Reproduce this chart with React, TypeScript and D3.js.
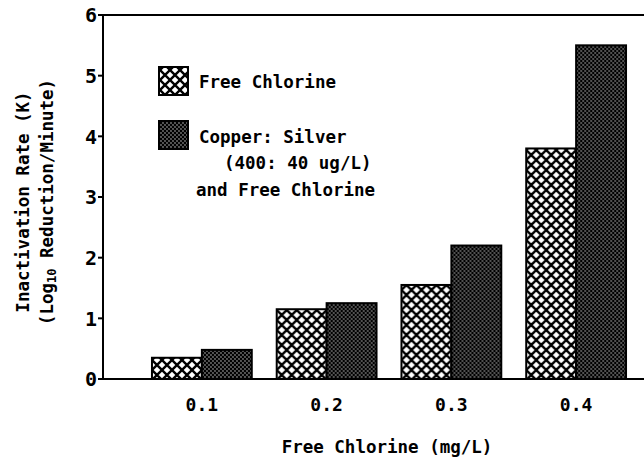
import React, { useEffect, useRef } from 'react';
import * as d3 from 'd3';

const doses = ['0.1', '0.2', '0.3', '0.4'];
const freeChlorine = [0.35, 1.15, 1.55, 3.8];
const copperSilver = [0.48, 1.25, 2.2, 5.5];
const yTicks = [0, 1, 2, 3, 4, 5, 6];
const seriesNames = ['Free Chlorine', 'Copper: Silver'];

const FONT = '"DejaVu Sans Mono", monospace';

export default function App() {
  const ref = useRef<SVGSVGElement | null>(null);

  useEffect(() => {
    const svg = d3.select(ref.current);
    svg.selectAll('*').remove();

    const width = 644;
    const height = 457;
    const left = 103;
    const right = 644;
    const top = 15;
    const bottom = 379;

    const defs = svg.append('defs');

    // cross hatch: white diamonds in black lines
    const hatch = defs.append('pattern')
      .attr('id', 'hatch')
      .attr('patternUnits', 'userSpaceOnUse')
      .attr('width', 10)
      .attr('height', 10);
    hatch.append('rect').attr('width', 10).attr('height', 10).attr('fill', '#fff');
    hatch.append('path')
      .attr('d', 'M-1,-1L11,11M11,-1L-1,11M-6,4L6,16M4,16L16,4M-6,6L6,-6M4,-6L16,6')
      .attr('stroke', '#000')
      .attr('stroke-width', 2.4);

    // stipple: black with small white dots
    const dots = defs.append('pattern')
      .attr('id', 'dots')
      .attr('patternUnits', 'userSpaceOnUse')
      .attr('width', 4)
      .attr('height', 4);
    dots.append('rect').attr('width', 4).attr('height', 4).attr('fill', '#000');
    dots.append('circle').attr('cx', 1).attr('cy', 1).attr('r', 0.65).attr('fill', '#e8e8e8');
    dots.append('circle').attr('cx', 3).attr('cy', 3).attr('r', 0.65).attr('fill', '#e8e8e8');

    const x = d3.scaleBand<string>()
      .domain(doses)
      .range([139.5, 638.5])
      .paddingInner(0.2)
      .paddingOuter(0.1);

    const x1 = d3.scaleBand<number>()
      .domain([0, 1])
      .range([0, x.bandwidth()]);

    const y = d3.scaleLinear().domain([0, 6]).range([bottom, top]);

    const fills = ['url(#hatch)', 'url(#dots)'];
    const series = [freeChlorine, copperSilver];

    const groups = svg.append('g')
      .selectAll('g')
      .data(doses)
      .join('g')
      .attr('transform', d => `translate(${x(d)},0)`);

    groups.selectAll('rect')
      .data((d, i) => series.map((s, k) => ({ k, v: s[i] })))
      .join('rect')
      .attr('x', d => x1(d.k)!)
      .attr('width', x1.bandwidth())
      .attr('y', d => y(d.v))
      .attr('height', d => y(0) - y(d.v))
      .attr('fill', d => fills[d.k])
      .attr('stroke', '#000')
      .attr('stroke-width', 2);

    // frame lines
    const axisG = svg.append('g').attr('stroke', '#000').attr('stroke-width', 2);
    axisG.append('line').attr('x1', left).attr('x2', left).attr('y1', top).attr('y2', bottom);
    axisG.append('line').attr('x1', left).attr('x2', right).attr('y1', top).attr('y2', top);
    axisG.append('line').attr('x1', left).attr('x2', right).attr('y1', bottom).attr('y2', bottom);

    axisG.selectAll('.tick')
      .data(yTicks)
      .join('line')
      .attr('x1', left - 5)
      .attr('x2', left)
      .attr('y1', d => y(d))
      .attr('y2', d => y(d));

    svg.append('g')
      .selectAll('text')
      .data(yTicks)
      .join('text')
      .attr('x', left - 6)
      .attr('y', d => y(d))
      .attr('dy', '0.36em')
      .attr('text-anchor', 'end')
      .attr('font-family', FONT)
      .attr('font-weight', 'bold')
      .attr('font-size', 20)
      .text(d => d);

    svg.append('g')
      .selectAll('text')
      .data(doses)
      .join('text')
      .attr('x', d => x(d)! + x.bandwidth() / 2)
      .attr('y', 405)
      .attr('dy', '0.36em')
      .attr('text-anchor', 'middle')
      .attr('font-family', FONT)
      .attr('font-weight', 'bold')
      .attr('font-size', 18)
      .text(d => d);

    svg.append('text')
      .attr('x', 387)
      .attr('y', 447)
      .attr('dy', '0.36em')
      .attr('text-anchor', 'middle')
      .attr('font-family', FONT)
      .attr('font-weight', 'bold')
      .attr('font-size', 17.5)
      .text('Free Chlorine (mg/L)');

    const yt = svg.append('text')
      .attr('transform', 'translate(0,202) rotate(-90)')
      .attr('text-anchor', 'middle')
      .attr('font-family', FONT)
      .attr('font-weight', 'bold')
      .attr('font-size', 17.5);
    yt.append('tspan').attr('x', 0).attr('y', 29).text('Inactivation Rate (K)');
    const l2 = yt.append('tspan').attr('x', 0).attr('y', 53);
    l2.append('tspan').text('(Log');
    l2.append('tspan').attr('font-size', 12).attr('dy', 3).text('10');
    l2.append('tspan').attr('dy', -3).text(' Reduction/Minute)');

    // legend
    const leg = svg.append('g').attr('font-family', FONT).attr('font-weight', 'bold').attr('font-size', 17.5);
    leg.append('rect').attr('x', 159).attr('y', 67).attr('width', 29).attr('height', 28)
      .attr('fill', fills[0]).attr('stroke', '#000').attr('stroke-width', 2);
    leg.append('rect').attr('x', 159).attr('y', 121).attr('width', 29).attr('height', 28)
      .attr('fill', fills[1]).attr('stroke', '#000').attr('stroke-width', 2);
    leg.append('text').attr('x', 199).attr('y', 82).attr('dy', '0.36em').text(seriesNames[0]);
    leg.append('text').attr('x', 199).attr('y', 137).attr('dy', '0.36em').text(seriesNames[1]);
    leg.append('text').attr('x', 224).attr('y', 163).attr('dy', '0.36em').text('(400: 40 ug/L)');
    leg.append('text').attr('x', 196).attr('y', 190).attr('dy', '0.36em').text('and Free Chlorine');

    svg.attr('width', width).attr('height', height);
  }, []);

  return (
    <svg
      ref={ref}
      width={644}
      height={457}
      style={{ position: 'absolute', left: 0, top: 0, background: '#fff' }}
    />
  );
}
